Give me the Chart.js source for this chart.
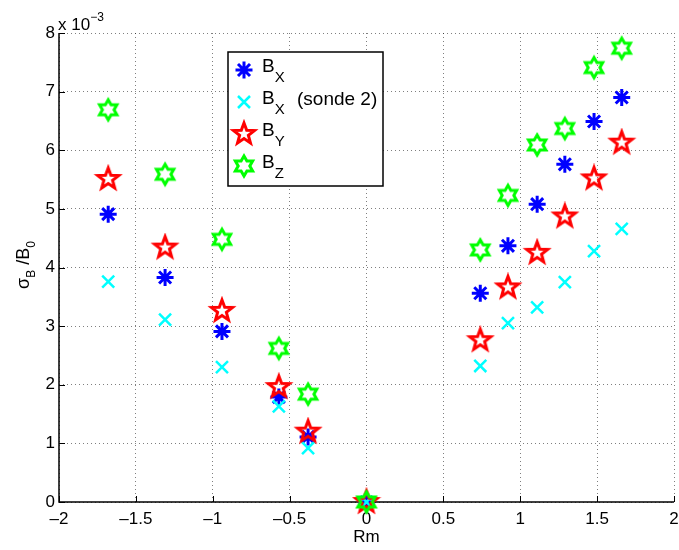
<!DOCTYPE html>
<html>
<head>
<meta charset="utf-8">
<script src="https://cdn.jsdelivr.net/npm/chart.js@4/dist/chart.umd.min.js"></script>
<style>
  body { margin: 0; background: #fff; }
  canvas { display: block; }
</style>
</head>
<body>
<canvas id="chart" width="679" height="550"></canvas>
<script>
// données (sigma_B / B0 en unités de 1e-3)
const rm = [-1.68, -1.31, -0.94, -0.57, -0.38, 0, 0.74, 0.92, 1.11, 1.29, 1.48, 1.66];
const bx = [4.91, 3.83, 2.91, 1.79, 1.11, 0, 3.56, 4.37, 5.08, 5.76, 6.49, 6.90];
const bxSonde2 = [3.76, 3.11, 2.30, 1.63, 0.92, 0, 2.32, 3.05, 3.32, 3.75, 4.28, 4.66];
const by = [5.51, 4.34, 3.26, 1.96, 1.20, 0, 2.76, 3.66, 4.25, 4.87, 5.52, 6.13];
const bz = [6.69, 5.59, 4.48, 2.62, 1.84, 0, 4.30, 5.23, 6.09, 6.37, 7.41, 7.74];

const xTicks = [-2, -1.5, -1, -0.5, 0, 0.5, 1, 1.5, 2];
const yTicks = [0, 1, 2, 3, 4, 5, 6, 7, 8];

const FONT = '"Liberation Sans", Arial, Helvetica, sans-serif';

function toPoints(ys) {
    return rm.map((x, i) => ({ x: x, y: ys[i] }));
}

// marqueurs style Matlab
function starCanvas(n, outer, inner, color) {
    const size = Math.ceil(outer * 2 + 8);
    const c = document.createElement('canvas');
    c.width = size; c.height = size;
    const ctx = c.getContext('2d');
    const cx = size / 2, cy = size / 2;
    ctx.beginPath();
    for (let i = 0; i < n * 2; i++) {
        const r = i % 2 === 0 ? outer : inner;
        const a = -Math.PI / 2 + i * Math.PI / n;
        const px = cx + r * Math.cos(a), py = cy + r * Math.sin(a);
        if (i === 0) ctx.moveTo(px, py); else ctx.lineTo(px, py);
    }
    ctx.closePath();
    ctx.strokeStyle = color;
    ctx.lineWidth = 3;
    ctx.lineJoin = 'miter';
    ctx.stroke();
    return c;
}

const pentagram = starCanvas(5, 11, 4.6, '#ff0000');
const hexagram = starCanvas(6, 10, 5.8, '#00ff00');

function drawAsterisk(ctx, x, y, r, color) {
    ctx.save();
    ctx.strokeStyle = color;
    ctx.lineWidth = 3;
    ctx.beginPath();
    for (let i = 0; i < 4; i++) {
        const a = i * Math.PI / 4;
        ctx.moveTo(x - r * Math.cos(a), y - r * Math.sin(a));
        ctx.lineTo(x + r * Math.cos(a), y + r * Math.sin(a));
    }
    ctx.stroke();
    ctx.restore();
}

function drawX(ctx, x, y, r, color) {
    ctx.save();
    ctx.strokeStyle = color;
    ctx.lineWidth = 2.5;
    ctx.beginPath();
    ctx.moveTo(x - r, y - r); ctx.lineTo(x + r, y + r);
    ctx.moveTo(x - r, y + r); ctx.lineTo(x + r, y - r);
    ctx.stroke();
    ctx.restore();
}

// texte avec indice
function drawSub(ctx, parts, x, y) {
    let cx = x;
    parts.forEach(p => {
        ctx.font = p.size + 'px ' + FONT;
        ctx.fillText(p.t, cx, y + (p.dy || 0));
        cx += ctx.measureText(p.t).width;
    });
    return cx - x;
}
function measureSub(ctx, parts) {
    let w = 0;
    parts.forEach(p => {
        ctx.font = p.size + 'px ' + FONT;
        w += ctx.measureText(p.t).width;
    });
    return w;
}

const matlabPlugin = {
    id: 'matlab',
    beforeDatasetsDraw(chart) {
        const ctx = chart.ctx;
        const a = chart.chartArea;
        const xs = chart.scales.x, ys = chart.scales.y;
        ctx.save();
        ctx.strokeStyle = '#000';
        ctx.lineWidth = 1.5;
        ctx.beginPath();
        ctx.moveTo(a.left, a.top);
        ctx.lineTo(a.left, a.bottom);
        ctx.lineTo(a.right, a.bottom);
        ctx.stroke();
        ctx.lineWidth = 1;
        ctx.beginPath();
        xTicks.forEach(v => {
            const px = Math.round(xs.getPixelForValue(v)) + 0.5;
            ctx.moveTo(px, a.bottom);
            ctx.lineTo(px, a.bottom - 6);
        });
        yTicks.forEach(v => {
            const py = Math.round(ys.getPixelForValue(v)) + 0.5;
            ctx.moveTo(a.left, py);
            ctx.lineTo(a.left + 6, py);
        });
        ctx.stroke();
        ctx.restore();
    },
    afterDraw(chart) {
        const ctx = chart.ctx;
        const a = chart.chartArea;
        ctx.save();
        ctx.fillStyle = '#000';
        ctx.textBaseline = 'alphabetic';
        ctx.textAlign = 'left';

        // facteur d'échelle
        drawSub(ctx, [
            { t: 'x 10', size: 17 },
            { t: '\u22123', size: 12, dy: -9 }
        ], 58, 30);

        // titre axe x
        ctx.font = '17px ' + FONT;
        ctx.textAlign = 'center';
        ctx.fillText('Rm', (a.left + a.right) / 2, 542);
        ctx.textAlign = 'left';

        // titre axe y
        const yl = [
            { t: '\u03c3', size: 18 },
            { t: 'B', size: 12, dy: 6 },
            { t: ' /B', size: 18 },
            { t: '0', size: 12, dy: 6 }
        ];
        const w = measureSub(ctx, yl);
        ctx.translate(29, 265);
        ctx.rotate(-Math.PI / 2);
        drawSub(ctx, yl, -w / 2, 0);
        ctx.setTransform(1, 0, 0, 1, 0, 0);

        // légende
        const lx = 228, ly = 52, lw = 155, lh = 134;
        ctx.fillStyle = '#fff';
        ctx.fillRect(lx, ly, lw, lh);
        ctx.strokeStyle = '#000';
        ctx.lineWidth = 1.5;
        ctx.strokeRect(lx, ly, lw, lh);
        const mx = 244;
        const rows = [70, 102, 134, 166];
        drawAsterisk(ctx, mx, rows[0], 8.5, '#0000ff');
        drawX(ctx, mx, rows[1], 6, '#00ffff');
        ctx.drawImage(pentagram, mx - pentagram.width / 2, rows[2] - pentagram.height / 2);
        ctx.drawImage(hexagram, mx - hexagram.width / 2, rows[3] - hexagram.height / 2);
        ctx.fillStyle = '#000';
        const subs = ['X', 'X', 'Y', 'Z'];
        rows.forEach((ry, i) => {
            drawSub(ctx, [
                { t: 'B', size: 19 },
                { t: subs[i], size: 15, dy: 10 }
            ], 262, ry + 2);
        });
        ctx.font = '19px ' + FONT;
        ctx.fillText('(sonde 2)', 297, rows[1] + 3);
        ctx.restore();
    }
};

function tickLabel(v) {
    return String(v).replace('-', '\u2013');
}

const datasets = [
    { label: 'Bx', data: toPoints(bx), pointStyle: 'star', radius: 8.5, borderWidth: 3,
      borderColor: '#0000ff', backgroundColor: '#0000ff', order: 3, clip: false },
    { label: 'Bx (sonde 2)', data: toPoints(bxSonde2), pointStyle: 'crossRot', radius: 8.5, borderWidth: 2.5,
      borderColor: '#00ffff', backgroundColor: '#00ffff', order: 2, clip: false },
    { label: 'By', data: toPoints(by), pointStyle: pentagram, radius: 11,
      borderColor: '#ff0000', backgroundColor: '#ff0000', order: 1, clip: false },
    { label: 'Bz', data: toPoints(bz), pointStyle: hexagram, radius: 10,
      borderColor: '#00ff00', backgroundColor: '#00ff00', order: 0, clip: false }
];

new Chart(document.getElementById('chart').getContext('2d'), {
    type: 'scatter',
    data: { datasets: datasets },
    options: {
        responsive: false,
        animation: false,
        layout: { autoPadding: false, padding: { left: 0, right: 5, top: 33, bottom: 0 } },
        plugins: { legend: { display: false }, tooltip: { enabled: false } },
        elements: { point: { hoverRadius: 8 } },
        scales: {
            x: {
                type: 'linear', min: -2, max: 2,
                afterFit: s => { s.height = 48; },
                afterBuildTicks: s => { s.ticks = xTicks.map(v => ({ value: v })); },
                ticks: { callback: tickLabel, color: '#000', padding: 0, maxRotation: 0,
                         font: { family: FONT, size: 17 } },
                grid: { color: 'rgba(0,0,0,0.5)', lineWidth: 1, drawTicks: true,
                        tickLength: 7, tickColor: 'rgba(0,0,0,0)' },
                border: { display: false, dash: [1, 3] }
            },
            y: {
                type: 'linear', min: 0, max: 8,
                afterFit: s => { s.width = 59; },
                afterBuildTicks: s => { s.ticks = yTicks.map(v => ({ value: v })); },
                ticks: { callback: tickLabel, color: '#000', padding: 0,
                         font: { family: FONT, size: 17 } },
                grid: { color: 'rgba(0,0,0,0.5)', lineWidth: 1, drawTicks: true,
                        tickLength: 4, tickColor: 'rgba(0,0,0,0)' },
                border: { display: false, dash: [1, 3] }
            }
        }
    },
    plugins: [matlabPlugin]
});
</script>
</body>
</html>
